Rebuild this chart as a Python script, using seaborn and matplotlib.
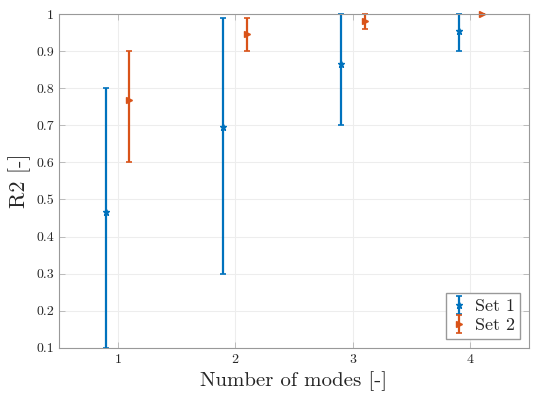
import numpy as np
import matplotlib
matplotlib.use("Agg")
import matplotlib.pyplot as plt
import seaborn as sns
from matplotlib.ticker import FuncFormatter

modes = [1, 2, 3, 4]
set1_mean = [0.465, 0.695, 0.865, 0.955]
set1_low = [0.1, 0.3, 0.7, 0.9]
set1_high = [0.8, 0.99, 1.0, 1.0]
set2_mean = [0.768, 0.947, 0.98, 1.0]
set2_low = [0.6, 0.9, 0.96, 1.0]
set2_high = [0.9, 0.99, 1.0, 1.0]

sns.set_style("whitegrid")
plt.rcParams["font.family"] = ["cmr10", "DejaVu Serif"]
plt.rcParams["mathtext.fontset"] = "cm"
plt.rcParams["axes.formatter.use_mathtext"] = True

fig = plt.figure(figsize=(5.4, 3.99), dpi=100)
ax = fig.add_axes([0.109, 0.128, 0.871, 0.837])

blue = "#0072BD"
orange = "#D95319"

x = np.array(modes, dtype=float)
m1 = np.array(set1_mean)
m2 = np.array(set2_mean)
ax.errorbar(x - 0.1, m1, yerr=[m1 - np.array(set1_low), np.array(set1_high) - m1],
            fmt="*", color=blue, ms=5, lw=1.6, capsize=2.5, capthick=1.2,
            label="Set 1", clip_on=False)
ax.errorbar(x + 0.1, m2, yerr=[m2 - np.array(set2_low), np.array(set2_high) - m2],
            fmt=">", color=orange, ms=5, lw=1.6, capsize=2.5, capthick=1.2,
            label="Set 2", clip_on=False)

ax.set_xlim(0.5, 4.5)
ax.set_ylim(0.1, 1.0)
ax.set_xticks(modes)
ax.set_yticks(np.round(np.arange(0.1, 1.01, 0.1), 1))
ax.yaxis.set_major_formatter(FuncFormatter(lambda v, p: "%g" % v))
ax.tick_params(direction="in", length=4, width=0.6, labelsize=10,
               color="0.7", labelcolor="0.15",
               top=True, right=True, bottom=True, left=True)
ax.grid(True, color="0.93", lw=0.8)
for s in ax.spines.values():
    s.set_color("0.6")
    s.set_linewidth(0.8)

ax.set_xlabel("Number of modes [-]", fontsize=15, color="0.15")
ax.set_ylabel("R2 [-]", fontsize=16, color="0.15")

ax.legend(loc="lower right", fontsize=13, handlelength=0.8, handletextpad=0.5,
          borderpad=0.3, labelspacing=0.2, fancybox=False, edgecolor="0.6",
          framealpha=1)

fig.savefig("out.png", dpi=100)
